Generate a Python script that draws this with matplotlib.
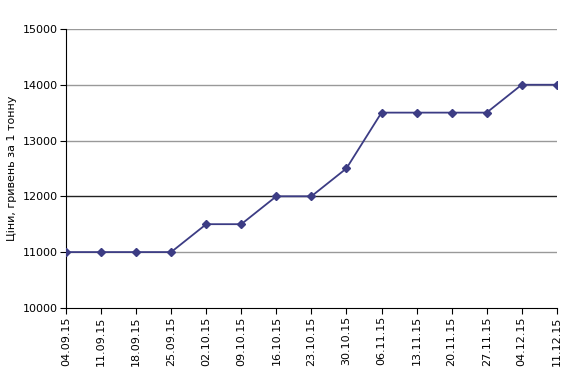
import matplotlib.pyplot as plt

dates = ['04.09.15', '11.09.15', '18.09.15', '25.09.15', '02.10.15', '09.10.15',
         '16.10.15', '23.10.15', '30.10.15', '06.11.15', '13.11.15', '20.11.15',
         '27.11.15', '04.12.15', '11.12.15']
prices = [11000, 11000, 11000, 11000, 11500, 11500, 12000, 12000, 12500,
          13500, 13500, 13500, 13500, 14000, 14000]

fig = plt.figure(figsize=(5.74, 3.81), dpi=100)
ax = fig.add_axes([0.115, 0.192, 0.855, 0.732])

x = list(range(len(dates)))
for yv in [11000, 13000, 14000, 15000]:
    ax.axhline(yv, color='#999999', lw=1, zorder=1)
ax.axhline(12000, color='#222222', lw=1, zorder=1)

ax.plot(x, prices, color='#3c3c84', lw=1.3, marker='D', ms=4.5, zorder=3)

ax.set_xlim(0, 14)
ax.set_ylim(10000, 15000)
ax.set_yticks(range(10000, 15001, 1000))
ax.set_xticks(x)
ax.set_xticklabels(dates, rotation=90, fontsize=8)
ax.tick_params(axis='y', labelsize=8, direction='out', length=4, pad=2)
ax.tick_params(axis='x', direction='out', length=4, pad=2)
for s in ['top', 'right']:
    ax.spines[s].set_visible(False)
ax.set_ylabel('Ціни, гривень за 1 тонну', fontsize=8, labelpad=4)

fig.savefig('out.png', dpi=100)
